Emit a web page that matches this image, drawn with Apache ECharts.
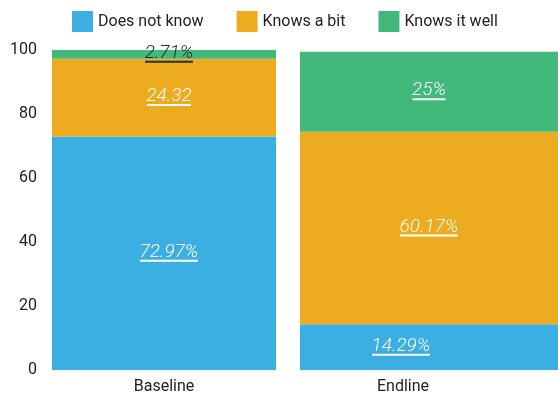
<!DOCTYPE html>
<html>
<head>
<meta charset="utf-8">
<script src="https://cdn.jsdelivr.net/npm/echarts@6/dist/echarts.min.js"></script>
<style>
  html, body { margin: 0; padding: 0; background: #fff; }
  #main { width: 558px; height: 396px; }
</style>
</head>
<body>
<div id="main"></div>
<script>
// data
var categories = ['Baseline', 'Endline'];
var seriesNames = ['Does not know', 'Knows a bit', 'Knows it well'];
var doesNotKnow = [72.97, 14.29];
var knowsABit = [24.32, 60.17];
var knowsItWell = [2.71, 25];
var doesNotKnowLabels = ['72.97%', '14.29%'];
var knowsABitLabels = ['24.32', '60.17%'];
var knowsItWellLabels = ['2.71%', '25%'];
var yTicks = [0, 20, 40, 60, 80, 100];

var colors = ['#3BAFE2', '#EDAB20', '#42B87B'];
var values = [doesNotKnow, knowsABit, knowsItWell];
var labels = [doesNotKnowLabels, knowsABitLabels, knowsItWellLabels];
var fontFamily = 'Roboto';
var labelFont = 'italic 300 19px ' + fontFamily;

// width of a label, so the underline matches the text
var ctx = document.createElement('canvas').getContext('2d');
function textWidth(s) {
  ctx.font = labelFont;
  return Math.round(ctx.measureText(s).width) - 1;
}

var myChart = echarts.init(document.getElementById('main'));

var grids = [
  { left: 52, top: 50, width: 224, height: 320 },
  { left: 300, top: 50, width: 280, height: 320 }
];

var xAxes = categories.map(function (c, i) {
  return {
    type: 'category',
    gridIndex: i,
    data: [c],
    axisLine: { show: false },
    axisTick: { show: false },
    axisLabel: {
      fontSize: 16,
      color: '#222',
      fontFamily: fontFamily,
      margin: 9,
      padding: i === 1 ? [0, 52, 0, 0] : 0
    }
  };
});

var yAxes = categories.map(function (c, i) {
  return {
    type: 'value',
    gridIndex: i,
    show: i === 0,
    min: yTicks[0],
    max: yTicks[yTicks.length - 1],
    interval: 20,
    splitLine: { show: false },
    axisLine: { show: false },
    axisTick: { show: false },
    axisLabel: { fontSize: 16, color: '#222', fontFamily: fontFamily, margin: 15 }
  };
});

var series = [];
categories.forEach(function (c, i) {
  seriesNames.forEach(function (name, k) {
    var txt = labels[k][i];
    var dark = (k === 2 && i === 0);
    var col = dark ? '#2b2b2b' : '#fff';
    var off = i === 0 ? [5, 0] : (k === 0 ? [-28, 0] : [0, 0]);
    series.push({
      name: name,
      type: 'bar',
      xAxisIndex: i,
      yAxisIndex: i,
      stack: 'st' + i,
      barWidth: '100%',
      itemStyle: { color: colors[k] },
      data: [{
        value: values[k][i],
        label: {
          show: true,
          position: 'inside',
          offset: off,
          formatter: '{t|' + txt + '}\n{u|}',
          rich: {
            t: { fontSize: 19, fontStyle: 'italic', fontWeight: 300, fontFamily: fontFamily, color: col, lineHeight: 15, align: 'center' },
            u: { width: textWidth(txt), height: 2, lineHeight: 2, backgroundColor: col, align: 'center' }
          }
        }
      }]
    });
  });
});

var option = {
  animation: false,
  color: colors,
  legend: {
    data: seriesNames,
    left: 67,
    top: 6,
    itemWidth: 21,
    itemHeight: 21,
    itemGap: 33,
    icon: 'rect',
    textStyle: { fontSize: 16, color: '#222', fontFamily: fontFamily }
  },
  grid: grids,
  xAxis: xAxes,
  yAxis: yAxes,
  series: series
};

myChart.setOption(option);
</script>
</body>
</html>
